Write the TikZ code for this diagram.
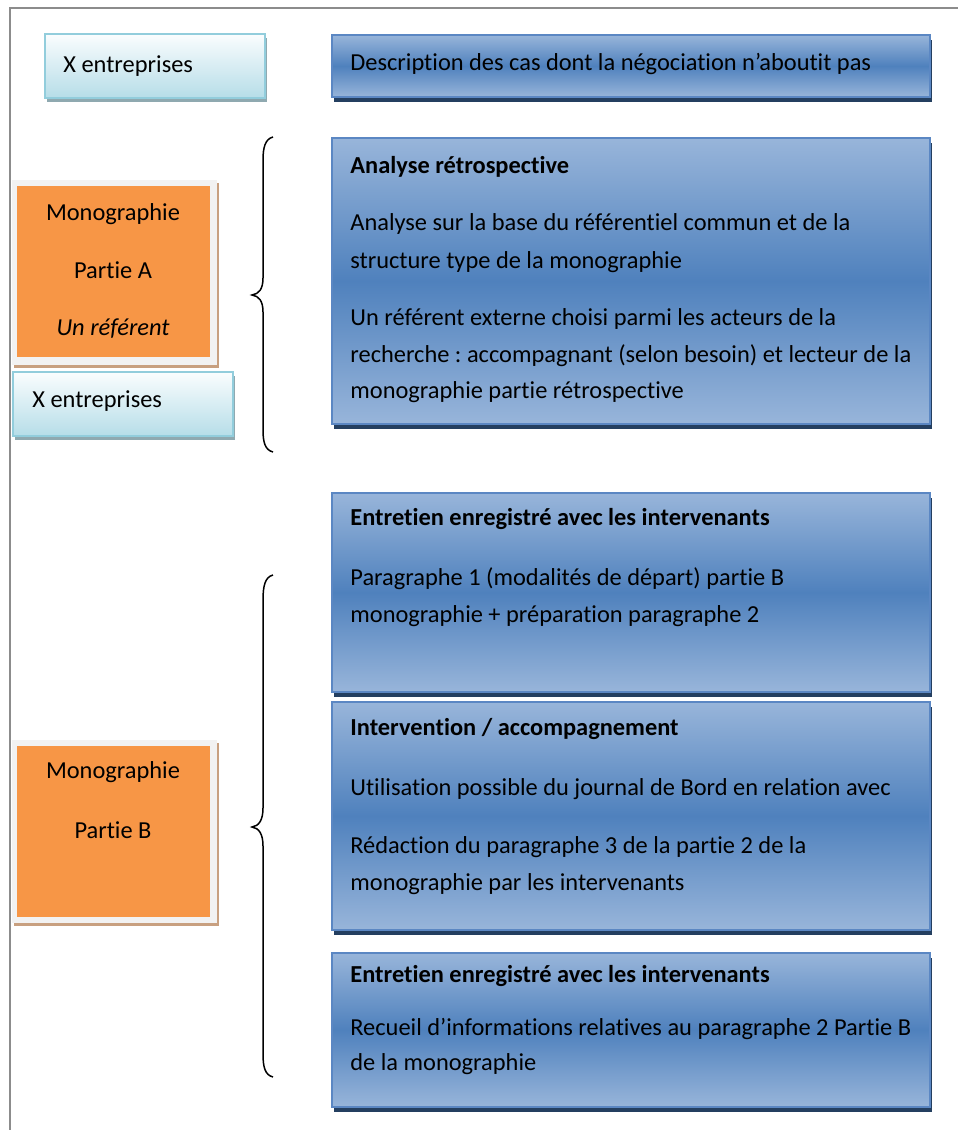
\documentclass[tikz,border=0pt]{standalone}
\usepackage{fontspec}
\setmainfont{Carlito}[Ligatures=NoCommon]
\usetikzlibrary{shadows}
\frenchspacing
\definecolor{bluelight}{HTML}{98B5DA}
\definecolor{bluemid}{HTML}{4F81BD}
\definecolor{blueedge}{HTML}{5B87C3}
\definecolor{navy}{HTML}{243F60}
\definecolor{cyanlight}{HTML}{FAFDFE}
\definecolor{cyandark}{HTML}{B6DDE8}
\definecolor{cyanedge}{HTML}{92CDDC}
\definecolor{cyanshadow}{HTML}{8FA9B0}
\definecolor{orangebox}{HTML}{F79646}
\definecolor{orangeframe}{HTML}{F2F2F2}
\definecolor{orangeshadow}{HTML}{C8A080}
\definecolor{framegray}{HTML}{8C8C8C}
\begin{document}
\begin{tikzpicture}[x=0.5pt,y=-0.5pt,
  txt/.style={inner sep=0pt, anchor=base west, font=\fontsize{12.2pt}{14pt}\selectfont},
  ctxt/.style={inner sep=0pt, anchor=base, font=\fontsize{12.2pt}{14pt}\selectfont},
  bluebox/.style={anchor=north west, inner sep=0pt, outer sep=0pt, minimum width=299pt,
    draw=blueedge, line width=0.9pt, top color=bluelight, bottom color=bluelight, middle color=bluemid,
    general shadow={fill=navy, shadow xshift=1.2pt, shadow yshift=-2.4pt}},
  cyanbox/.style={anchor=north west, inner sep=0pt, outer sep=0pt, minimum width=110pt, minimum height=32pt,
    draw=cyanedge, line width=0.9pt, top color=cyanlight, bottom color=cyandark,
    general shadow={fill=cyanshadow, shadow xshift=1.2pt, shadow yshift=-2pt}},
  frameorange/.style={anchor=north west, inner sep=0pt, outer sep=0pt, minimum width=102.5pt,
    fill=orangeframe, general shadow={fill=orangeshadow, shadow xshift=1pt, shadow yshift=-1.5pt}},
  orangefill/.style={anchor=north west, inner sep=0pt, outer sep=0pt, minimum width=96.5pt,
    minimum height=85.5pt, fill=orangebox},
  brace/.style={line width=0.75pt, black},
  framel/.style={line width=1.1pt, framegray}
]
\useasboundingbox (0,0) rectangle (958,1130);
% page frame
\coordinate (fbl) at (10,1130);
\coordinate (ftl) at (10,8);
\coordinate (ftr) at (958,8);
\draw[framel] (fbl) -- (ftl) -- (ftr);

% top row
\node[cyanbox] (xe1) at (45,34) {};
\node[txt] (xe1t) at (63,72) {X entreprises};
\node[bluebox, minimum height=31pt] (desc) at (332,35) {};
\node[txt] (desct) at (350,70) {Description des cas dont la négociation n’aboutit pas};

% Analyse
\node[bluebox, minimum height=143pt] (ana) at (332,138) {};
\node[txt] (ana1) at (350,173) {\bfseries Analyse rétrospective};
\node[txt] (ana2) at (350,230) {Analyse sur la base du référentiel commun et de la};
\node[txt] (ana3) at (350,268) {structure type de la monographie};
\node[txt] (ana4) at (350,325) {Un référent externe choisi parmi les acteurs de la};
\node[txt] (ana5) at (350,362) {recherche : accompagnant (selon besoin) et lecteur de la};
\node[txt] (ana6) at (350,398) {monographie partie rétrospective};

% Monographie A
\node[frameorange, minimum height=92.5pt] (monaf) at (12,180) {};
\node[orangefill] (mona) at (17,186) {};
\node[ctxt] (mona1) at (113,220) {Monographie};
\node[ctxt] (mona2) at (113,278) {Partie A};
\node[ctxt] (mona3) at (113,335) {\itshape Un référent};
\node[cyanbox] (xe2) at (13,372) {};
\node[txt] (xe2t) at (32,407) {X entreprises};

% brace 1
\coordinate (b1t) at (273,137);
\coordinate (b1m) at (252,295);
\coordinate (b1b) at (273,452);
\draw[brace] (b1t) .. controls (265,139) and (263,148) .. (263,160) -- (263,278)
  .. controls (263,289) and (259,294) .. (b1m)
  .. controls (259,296) and (263,301) .. (263,312) -- (263,430)
  .. controls (263,442) and (265,450) .. (b1b);

% Entretien 1
\node[bluebox, minimum height=99.5pt] (ent1) at (332,493) {};
\node[txt] (ent11) at (350,525) {\bfseries Entretien enregistré avec les intervenants};
\node[txt] (ent12) at (350,585) {Paragraphe 1 (modalités de départ) partie B};
\node[txt] (ent13) at (350,622) {monographie + préparation paragraphe 2};

% Intervention
\node[bluebox, minimum height=114pt] (int) at (332,702) {};
\node[txt] (int1) at (350,735) {\bfseries Intervention / accompagnement};
\node[txt] (int2) at (350,795) {Utilisation possible du journal de Bord en relation avec};
\node[txt] (int3) at (350,853) {Rédaction du paragraphe 3 de la partie 2 de la};
\node[txt] (int4) at (350,890) {monographie par les intervenants};

% Entretien 2
\node[bluebox, minimum height=77pt] (ent2) at (332,953) {};
\node[txt] (ent21) at (350,982) {\bfseries Entretien enregistré avec les intervenants};
\node[txt] (ent22) at (350,1035) {Recueil d’informations relatives au paragraphe 2 Partie B};
\node[txt] (ent23) at (350,1070) {de la monographie};

% Monographie B
\node[frameorange, minimum height=91.5pt] (monbf) at (12,740) {};
\node[orangefill] (monb) at (17,746) {};
\node[ctxt] (monb1) at (113,778) {Monographie};
\node[ctxt] (monb2) at (113,838) {Partie B};

% brace 2
\coordinate (b2t) at (273,575);
\coordinate (b2m) at (252,827);
\coordinate (b2b) at (273,1077);
\draw[brace] (b2t) .. controls (265,577) and (263,586) .. (263,600) -- (263,808)
  .. controls (263,820) and (259,826) .. (b2m)
  .. controls (259,828) and (263,834) .. (263,846) -- (263,1054)
  .. controls (263,1067) and (265,1075) .. (b2b);
\end{tikzpicture}
\end{document}
